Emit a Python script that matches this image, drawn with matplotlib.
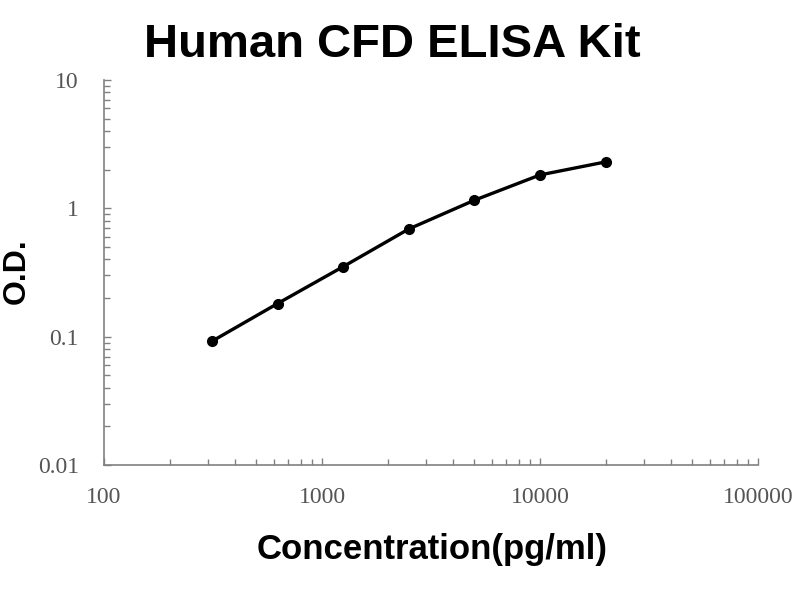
import numpy as np
import matplotlib
matplotlib.use("Agg")
import matplotlib.pyplot as plt
from matplotlib.ticker import LogLocator, FixedLocator, NullFormatter

# Standard curve data
conc = [312.5, 625, 1250, 2500, 5000, 10000, 20000]   # pg/ml
od = [0.092, 0.181, 0.351, 0.69, 1.156, 1.82, 2.30]

x_ticks = [100, 1000, 10000, 100000]
x_tick_labels = ["100", "1000", "10000", "100000"]
y_ticks = [0.01, 0.1, 1, 10]
y_tick_labels = ["0.01", "0.1", "1", "10"]

fig = plt.figure(figsize=(8, 6), dpi=100)
ax = fig.add_axes([0.13, 0.225, 0.8175, 0.6417])

ax.plot(conc, od, color="black", lw=2.4, marker="o", ms=7, solid_capstyle="round")

ax.set_xscale("log")
ax.set_yscale("log")
ax.set_xlim(100, 100000)
ax.set_ylim(0.01, 10)

ax.xaxis.set_major_locator(FixedLocator(x_ticks))
ax.yaxis.set_major_locator(FixedLocator(y_ticks))
ax.set_xticklabels(x_tick_labels)
ax.set_yticklabels(y_tick_labels)
ax.xaxis.set_minor_locator(LogLocator(base=10, subs=np.arange(2, 10)))
ax.yaxis.set_minor_locator(LogLocator(base=10, subs=np.arange(2, 10)))
ax.xaxis.set_minor_formatter(NullFormatter())
ax.yaxis.set_minor_formatter(NullFormatter())

grey = "#808080"
for s in ["top", "right"]:
    ax.spines[s].set_visible(False)
for s in ["left", "bottom"]:
    ax.spines[s].set_color(grey)
    ax.spines[s].set_linewidth(1.2)

ax.tick_params(which="both", direction="in", color=grey, width=1.0)
ax.tick_params(which="major", length=5)
ax.tick_params(which="minor", length=4)
ax.tick_params(axis="x", which="major", pad=16, labelsize=17, labelcolor="#555555")
ax.tick_params(axis="y", which="major", pad=18, labelsize=17, labelcolor="#555555")
for lab in ax.get_xticklabels() + ax.get_yticklabels():
    lab.set_family("Liberation Serif")

fig.text(0.491, 0.925, "Human CFD ELISA Kit", ha="center", va="center",
         fontsize=34, fontweight="bold", family="Liberation Sans")
fig.text(0.54, 0.085, "Concentration(pg/ml)", ha="center", va="center",
         fontsize=25, fontweight="bold", family="Liberation Sans")
fig.text(0.021, 0.548, "O.D.", ha="center", va="center", rotation=90,
         fontsize=23, fontweight="bold", family="Liberation Sans")

fig.savefig("out.png", dpi=100)
